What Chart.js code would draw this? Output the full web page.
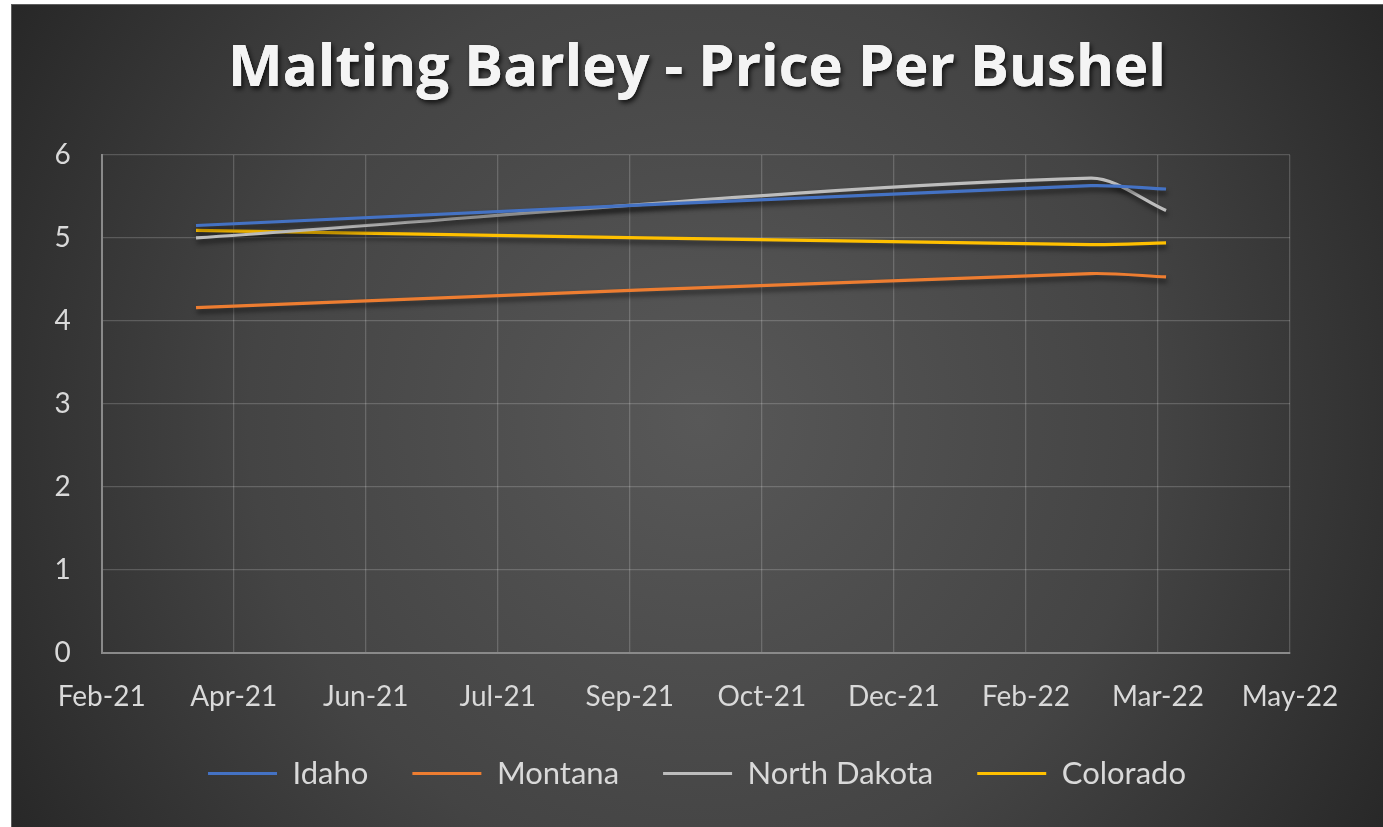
<!DOCTYPE html>
<html>
<head>
<meta charset="utf-8">
<title>Malting Barley - Price Per Bushel</title>
<script src="https://cdn.jsdelivr.net/npm/chart.js@4.4.1/dist/chart.umd.min.js"></script>
<style>
  html, body { margin: 0; padding: 0; background: #ffffff; }
  #wrap { width: 1383px; height: 827px; }
</style>
</head>
<body>
<div id="wrap"><canvas id="chart" width="1383" height="827"></canvas></div>
<script>
// dates of the observations
const dates = ["2021-03-31", "2022-02-26", "2022-03-26"];

const idaho = [5.15, 5.63, 5.59];
const montana = [4.16, 4.57, 4.53];
const northDakota = [5.0, 5.72, 5.33];
const colorado = [5.09, 4.92, 4.94];

// x axis (Excel date axis: first label date and step in days)
const xAxisStart = "2021-02-24";
const xAxisStepDays = 49;
const xTickLabels = ["Feb-21", "Apr-21", "Jun-21", "Jul-21", "Sep-21", "Oct-21", "Dec-21", "Feb-22", "Mar-22", "May-22"];

const yTicks = [0, 1, 2, 3, 4, 5, 6];

function toDay(str) {
  const [y, m, d] = str.split("-").map(Number);
  return Date.UTC(y, m - 1, d) / 86400000;
}

const startDay = toDay(xAxisStart);
const xTickValues = xTickLabels.map((_, i) => startDay + i * xAxisStepDays);

function series(values) {
  return values.map((v, i) => ({ x: toDay(dates[i]), y: v }));
}

const textColor = "#d9d9d9";
const gridColor = "rgba(255, 255, 255, 0.18)";
const font = "Lato";

const backgroundPlugin = {
  id: "background",
  beforeDraw(chart) {
    const { ctx, width, height } = chart;
    ctx.save();
    ctx.fillStyle = "#ffffff";
    ctx.fillRect(0, 0, width, height);
    const g = ctx.createRadialGradient(700, 420, 0, 700, 420, 820);
    g.addColorStop(0, "#585858");
    g.addColorStop(0.55, "#444444");
    g.addColorStop(1, "#262626");
    ctx.fillStyle = g;
    ctx.fillRect(11, 4, width - 11, height - 4);
    ctx.strokeStyle = "rgba(255, 255, 255, 0.25)";
    ctx.lineWidth = 1;
    ctx.strokeRect(11.5, 4.5, width, height);

    // soft shadow behind the title
    ctx.shadowColor = "rgba(0, 0, 0, 0.75)";
    ctx.shadowBlur = 5;
    ctx.shadowOffsetX = 2;
    ctx.shadowOffsetY = 3;
    chart.titleBlock.draw();
    ctx.restore();
  }
};

const lineShadowPlugin = {
  id: "lineShadow",
  beforeDatasetsDraw(chart) {
    const ctx = chart.ctx;
    ctx.save();
    ctx.shadowColor = "rgba(0, 0, 0, 0.6)";
    ctx.shadowBlur = 5;
    ctx.shadowOffsetX = 1;
    ctx.shadowOffsetY = 4;
  },
  afterDatasetsDraw(chart) {
    chart.ctx.restore();
  }
};

function lineDataset(label, values, color) {
  return {
    label,
    data: series(values),
    borderColor: color,
    backgroundColor: color,
    borderWidth: 3.2,
    pointRadius: 0,
    tension: 0.3,
    fill: false
  };
}

new Chart(document.getElementById("chart"), {
  type: "line",
  data: {
    datasets: [
      lineDataset("Idaho", idaho, "#4472c4"),
      lineDataset("Montana", montana, "#ed7d31"),
      lineDataset("North Dakota", northDakota, "#bdbdbd"),
      lineDataset("Colorado", colorado, "#ffc000")
    ]
  },
  options: {
    responsive: false,
    animation: false,
    layout: {
      padding: { left: 11, top: 4, right: 0, bottom: 28 }
    },
    plugins: {
      title: {
        display: true,
        text: "Malting Barley - Price Per Bushel",
        color: "#f4f4f4",
        font: { family: "Open Sans", size: 58, weight: "bold" },
        padding: { top: 31, bottom: 50.4 }
      },
      legend: {
        position: "bottom",
        labels: {
          color: textColor,
          font: { family: font, size: 31 },
          boxWidth: 69,
          boxHeight: 3,
          padding: 44,
          generateLabels(chart) {
            return Chart.defaults.plugins.legend.labels.generateLabels(chart).map((item) => ({
              ...item,
              fillStyle: item.strokeStyle,
              lineWidth: 0
            }));
          }
        }
      },
      tooltip: { enabled: false }
    },
    scales: {
      x: {
        type: "linear",
        min: xTickValues[0],
        max: xTickValues[xTickValues.length - 1],
        afterBuildTicks(scale) {
          scale.ticks = xTickValues.map((value) => ({ value }));
        },
        afterFit(scale) {
          scale.height = 61.5;
        },
        ticks: {
          autoSkip: false,
          maxRotation: 0,
          padding: 28,
          color: textColor,
          font: { family: font, size: 28 },
          callback: (value, index) => xTickLabels[index]
        },
        grid: { color: gridColor, lineWidth: 1.3, drawTicks: false },
        border: { color: "#8a8a8a", width: 2 }
      },
      y: {
        min: yTicks[0],
        max: yTicks[yTicks.length - 1],
        afterBuildTicks(scale) {
          scale.ticks = yTicks.map((value) => ({ value }));
        },
        afterFit(scale) {
          scale.width = 90.7;
        },
        ticks: {
          padding: 31,
          color: textColor,
          font: { family: font, size: 28 }
        },
        grid: { color: gridColor, lineWidth: 1.3, drawTicks: false },
        border: { color: "#8a8a8a", width: 2 }
      },
      // empty right-hand axis: keeps the plot off the right edge
      spacer: {
        type: "linear",
        position: "right",
        display: true,
        afterFit(scale) {
          scale.width = 93;
        },
        ticks: { display: false },
        grid: { display: false, drawOnChartArea: false },
        border: { display: false }
      }
    }
  },
  plugins: [backgroundPlugin, lineShadowPlugin]
});
</script>
</body>
</html>
